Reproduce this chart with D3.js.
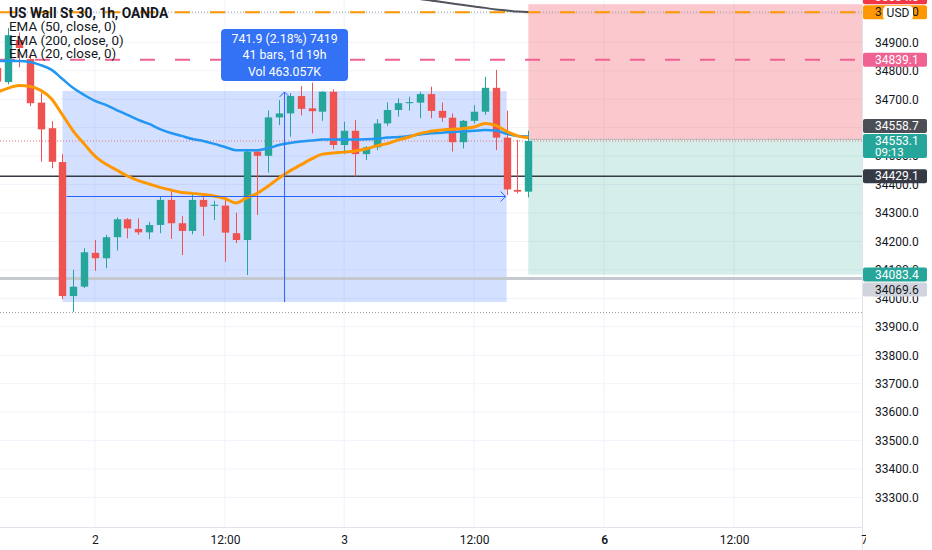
<!DOCTYPE html>
<html><head><meta charset="utf-8">
<script src="https://cdn.jsdelivr.net/npm/d3@7"></script>
<style>html,body{margin:0;padding:0;background:#fff;overflow:hidden}svg{display:block;font-family:Roboto,"Noto Sans",sans-serif}</style>
</head><body>
<svg id="chart" width="932" height="550"></svg>
<script>
// ---------- data ----------
const barIndex = [-1,0,1,2,3,4,5,6,7,8,9,10,11,12,13,14,15,16,17,18,19,20,21,22,23,24,25,26,27,28,29,30,31,32,33,34,35,36,37,38,39,40,41,42,43,44,45,46,47,48];
const opens  = [34810,34760,34908,34841,34688,34598,34479,34008,34041,34160,34141,34215,34278,34244,34232,34258,34346,34264,34237,34346,34325,34326,34229,34205,34516,34501,34636,34650,34711,34668,34656,34726,34539,34589,34507,34531,34615,34662,34686,34688,34718,34659,34635,34549,34624,34656,34740,34565,34381,34375];
const highs  = [34828,34950,34934,34856,34722,34623,34507,34100,34176,34205,34223,34285,34282,34281,34269,34357,34381,34289,34371,34363,34343,34352,34301,34521,34521,34660,34697,34721,34746,34758,34728,34735,34621,34627,34535,34630,34689,34703,34709,34726,34744,34688,34650,34627,34679,34779,34803,34660,34557,34589];
const lows   = [34752,34752,34812,34676,34480,34457,33997,33953,34036,34097,34106,34168,34211,34223,34208,34229,34209,34152,34225,34219,34275,34129,34194,34082,34293,34442,34609,34568,34643,34580,34624,34524,34507,34428,34486,34521,34606,34639,34660,34633,34633,34621,34516,34527,34615,34645,34521,34363,34369,34355];
const closes = [34762,34925,34880,34686,34594,34480,34008,34041,34162,34141,34215,34278,34246,34232,34258,34346,34264,34237,34346,34322,34329,34231,34205,34516,34501,34636,34650,34711,34666,34658,34726,34539,34589,34507,34531,34615,34662,34686,34690,34718,34659,34635,34549,34624,34656,34740,34565,34383,34375,34553.1];
const ema50  = [34834,34834,34834,34831,34820,34803,34771,34739,34715,34694,34680,34662,34645,34627,34613,34595,34581,34571,34560,34553,34543,34532,34521,34521,34521,34528,34539,34546,34551,34555,34558,34558,34558,34558,34559,34561,34565,34567,34571,34576,34580,34582,34585,34587,34589,34592,34590,34578,34571,34569];
const ema20  = [34725,34739,34748,34745,34731,34701,34645,34588,34543,34500,34472,34451,34430,34414,34402,34390,34381,34372,34369,34365,34360,34351,34335,34353,34370,34395,34423,34448,34469,34490,34507,34511,34514,34518,34525,34536,34544,34557,34567,34580,34587,34592,34594,34597,34602,34615,34608,34587,34571,34565];
const ema200Index = [34,35,36,37,38,39,40,41,42,43,44,45,46,47,48];
const ema200 = [35084,35077,35068,35059,35052,35047,35042,35036,35031,35026,35021,35015,35012,35008,35006.5];

const timeTickIndex  = [8,20,31,43,55,67,79];
const timeTickLabels = ["2","12:00","3","12:00","6","12:00","7"];
const timeTickBold   = [false,false,false,false,true,false,false];
const priceTicks = [33300,33400,33500,33600,33700,33800,33900,34000,34100,34200,34300,34400,34500,34600,34700,34800,34900,35000];

const legendLines = ["US Wall St 30, 1h, OANDA","EMA (50, close, 0)","EMA (200, close, 0)","EMA (20, close, 0)"];

// position tool (short)
const positionStartIndex = 48;
const entryPrice = 34558.7, stopPrice = 35034.0, targetPrice = 34083.4;
// measure tool
const measureFromIndex = 5, measureToIndex = 46;
const measureLow = 33987.0, measureHigh = 34728.9;
const measureText = ["741.9 (2.18%) 7419","41 bars, 1d 19h","Vol 463.057K"];
// horizontal levels
const darkLevel = 34429.1, greyLevel = 34069.6, pinkLevel = 34839.1, orangeLevel = 35006.0, lastPrice = 34553.1, lowDotted = 33950;
const countdown = "09:13";

// ---------- layout ----------
const W = 932, H = 550, plotR = 862, plotB = 527;
const svg = d3.select("#chart");
const x = d3.scaleLinear().domain([0,48]).range([8.3,528.3]);
const y = d3.scaleLinear().domain([33196.3,35048.7]).range([plotB,0]);
const UP = "#26a69a", DOWN = "#ef5350";

svg.append("defs").append("clipPath").attr("id","plot").append("rect").attr("x",0).attr("y",0).attr("width",plotR).attr("height",plotB);
const plot = svg.append("g").attr("clip-path","url(#plot)");

// grid
plot.append("g").selectAll("line").data(priceTicks).join("line")
  .attr("x1",0).attr("x2",plotR).attr("y1",d=>y(d)).attr("y2",d=>y(d)).attr("stroke","#f0f3fa");
plot.append("g").selectAll("line").data(timeTickIndex).join("line")
  .attr("x1",d=>x(d)).attr("x2",d=>x(d)).attr("y1",0).attr("y2",plotB).attr("stroke","#f0f3fa");

// position tool
plot.append("rect").attr("x",x(positionStartIndex)).attr("width",plotR-x(positionStartIndex))
  .attr("y",y(stopPrice)).attr("height",y(entryPrice)-y(stopPrice)).attr("fill","rgba(242,54,69,0.27)");
plot.append("rect").attr("x",x(positionStartIndex)).attr("width",plotR-x(positionStartIndex))
  .attr("y",y(entryPrice)).attr("height",y(targetPrice)-y(entryPrice)).attr("fill","rgba(8,153,129,0.17)");

// measure rect
plot.append("rect").attr("x",x(measureFromIndex)).attr("width",x(measureToIndex)-x(measureFromIndex))
  .attr("y",y(measureHigh)).attr("height",y(measureLow)-y(measureHigh)).attr("fill","rgba(41,98,255,0.2)");

// horizontal levels
function hline(p, color, width, dash){
  plot.append("line").attr("x1",0).attr("x2",plotR).attr("y1",y(p)).attr("y2",y(p))
    .attr("stroke",color).attr("stroke-width",width).attr("stroke-dasharray",dash||null);
}
hline(greyLevel,"#c5c8cf",3);
hline(darkLevel,"#363a45",1.3);
hline(pinkLevel,"#f06292",2,"15,20");
hline(orangeLevel,"#9598a1",1,"1,2");
hline(orangeLevel,"#ff9800",2,"15,20");
hline(lowDotted,"#9598a1",1,"1,2");
hline(lastPrice,"#e57373",1,"1,2");
plot.append("line").attr("x1",x(positionStartIndex)).attr("x2",plotR).attr("y1",y(entryPrice)).attr("y2",y(entryPrice))
  .attr("stroke","#8a8d96").attr("stroke-width",1).attr("stroke-dasharray","1,1");

// candles
const bars = barIndex.map((i,k)=>({i,o:opens[k],h:highs[k],l:lows[k],c:closes[k]}));
const cg = plot.append("g");
const bw = 7.4;
cg.selectAll("line").data(bars).join("line")
  .attr("x1",d=>Math.round(x(d.i))+0.5).attr("x2",d=>Math.round(x(d.i))+0.5)
  .attr("y1",d=>y(d.h)).attr("y2",d=>y(d.l)).attr("stroke",d=>d.c>=d.o?UP:DOWN).attr("stroke-width",1);
cg.selectAll("rect").data(bars).join("rect")
  .attr("x",d=>Math.round(x(d.i))+0.5-bw/2).attr("width",bw)
  .attr("y",d=>y(Math.max(d.o,d.c))).attr("height",d=>Math.max(1,Math.abs(y(d.o)-y(d.c))))
  .attr("fill",d=>d.c>=d.o?UP:DOWN);

// EMAs
const line = d3.line().x(d=>x(d[0])).y(d=>y(d[1])).curve(d3.curveMonotoneX);
plot.append("path").attr("d",line(barIndex.map((i,k)=>[i,ema50[k]]))).attr("fill","none").attr("stroke","#2196f3").attr("stroke-width",2.5);
plot.append("path").attr("d",line(ema200Index.map((i,k)=>[i,ema200[k]]))).attr("fill","none").attr("stroke","#50535e").attr("stroke-width",2);
plot.append("path").attr("d",line(barIndex.map((i,k)=>[i,ema20[k]]))).attr("fill","none").attr("stroke","#ff9800").attr("stroke-width",3);

// measure arrows
const mBlue = "#2962ff";
const midY = y((measureLow+measureHigh)/2), midX = (x(measureFromIndex)+x(measureToIndex))/2;
plot.append("line").attr("x1",x(measureFromIndex)+4).attr("x2",x(measureToIndex)-1).attr("y1",midY).attr("y2",midY).attr("stroke",mBlue);
plot.append("path").attr("d",`M${x(measureToIndex)-6},${midY-5}L${x(measureToIndex)-1},${midY}L${x(measureToIndex)-6},${midY+5}`).attr("fill","none").attr("stroke",mBlue);
plot.append("line").attr("x1",midX).attr("x2",midX).attr("y1",y(measureHigh)+1).attr("y2",y(measureLow)).attr("stroke",mBlue);
plot.append("path").attr("d",`M${midX-5},${y(measureHigh)+6}L${midX},${y(measureHigh)+1}L${midX+5},${y(measureHigh)+6}`).attr("fill","none").attr("stroke",mBlue);

// measure tooltip
const tipW = 127, tipH = 52, tipBottom = y(measureHigh) - 10;
const tip = plot.append("g");
tip.append("rect").attr("x",midX-tipW/2).attr("y",tipBottom-tipH).attr("width",tipW).attr("height",tipH).attr("rx",4).attr("fill","#3371f5");
tip.selectAll("text").data(measureText).join("text")
  .attr("x",midX).attr("y",(d,k)=>tipBottom-tipH+14+k*16.5).attr("text-anchor","middle").attr("fill","#fff")
  .attr("font-size",12.3).text(d=>d);

// legend
svg.append("g").selectAll("text").data(legendLines).join("text")
  .attr("x",9).attr("y",(d,k)=>k===0?18:31+(k-1)*13.5).attr("font-size",(d,k)=>k===0?13.8:13.4).attr("fill","#131722")
  .attr("font-weight",(d,k)=>k===0?700:400).text(d=>d);

// axes backgrounds
svg.append("rect").attr("x",plotR).attr("y",0).attr("width",W-plotR).attr("height",H).attr("fill","#fff");
svg.append("rect").attr("x",0).attr("y",plotB).attr("width",plotR).attr("height",H-plotB).attr("fill","#fff");
svg.append("line").attr("x1",plotR+0.5).attr("x2",plotR+0.5).attr("y1",0).attr("y2",H).attr("stroke","#e0e3eb");
svg.append("line").attr("x1",0).attr("x2",plotR).attr("y1",plotB+0.5).attr("y2",plotB+0.5).attr("stroke","#e0e3eb");

// right axis
const ya = svg.append("g").attr("transform",`translate(${plotR},0)`)
  .call(d3.axisRight(y).tickValues(priceTicks).tickFormat(d3.format(".1f")).tickSize(0).tickPadding(13));
ya.select(".domain").remove();
ya.selectAll("text").attr("font-size",12).attr("fill","#131722").attr("font-family","Roboto,'Noto Sans',sans-serif");

// bottom axis
svg.append("clipPath").attr("id","xax").append("rect").attr("x",0).attr("y",plotB).attr("width",plotR+4).attr("height",H-plotB);
const xa = svg.append("g").attr("clip-path","url(#xax)").append("g").attr("transform",`translate(0,${plotB})`)
  .call(d3.axisBottom(x).tickValues(timeTickIndex).tickFormat((d,k)=>timeTickLabels[k]).tickSize(0).tickPadding(8));
xa.select(".domain").remove();
xa.selectAll("text").attr("font-size",12).attr("fill","#131722").attr("font-family","Roboto,'Noto Sans',sans-serif")
  .attr("font-weight",(d,k)=>timeTickBold[k]?600:400);

// price labels (placed with simple collision avoidance)
const priceLabels = [
  {p:lastPrice, text:[d3.format(".1f")(lastPrice),countdown], bg:"#26a69a", fg:"#fff", h:24, top:7},
  {p:orangeLevel, text:[d3.format(".1f")(orangeLevel)], bg:"#ff9800", fg:"#131722", h:14, top:7},
  {p:entryPrice, text:[d3.format(".1f")(entryPrice)], bg:"#4c4e55", fg:"#fff", h:14, top:7},
  {p:targetPrice, text:[d3.format(".1f")(targetPrice)], bg:"#26a69a", fg:"#fff", h:14, top:7},
  {p:stopPrice, text:[d3.format(".1f")(stopPrice)], bg:"#f23645", fg:"#fff", h:14, top:7},
  {p:greyLevel, text:[d3.format(".1f")(greyLevel)], bg:"#d1d4dc", fg:"#131722", h:14, top:7},
  {p:pinkLevel, text:[d3.format(".1f")(pinkLevel)], bg:"#f06292", fg:"#fff", h:14, top:7},
  {p:darkLevel, text:[d3.format(".1f")(darkLevel)], bg:"#363a45", fg:"#fff", h:14, top:7}
];
const placed = [];
priceLabels.forEach(L=>{
  let t = y(L.p) - L.top;
  let moved = true, guard = 0;
  while(moved && guard++ < 10){
    moved = false;
    for(const P of placed){
      if(t < P.t + P.h + 1 && t + L.h + 1 > P.t){
        if(y(L.p) < P.c) t = P.t - 1 - L.h; else t = P.t + P.h + 1;
        moved = true;
      }
    }
  }
  L.t = t; L.c = y(L.p);
  placed.push(L);
});
const lg = svg.append("g");
placed.forEach(L=>{
  lg.append("rect").attr("x",plotR+1).attr("y",L.t).attr("width",64).attr("height",L.h).attr("rx",2).attr("fill",L.bg);
  L.text.forEach((s,k)=>{
    lg.append("text").attr("x",plotR+13).attr("y",L.t+11+k*11.5).attr("font-size",k===0?12:11.5).attr("fill",L.fg).text(s);
  });
});
// currency badge
lg.append("rect").attr("x",883).attr("y",6).attr("width",30).attr("height",14).attr("rx",4).attr("fill","#fff");
lg.append("text").attr("x",898).attr("y",17).attr("text-anchor","middle").attr("font-size",12).attr("fill","#131722").text("USD");
</script>
</body></html>
